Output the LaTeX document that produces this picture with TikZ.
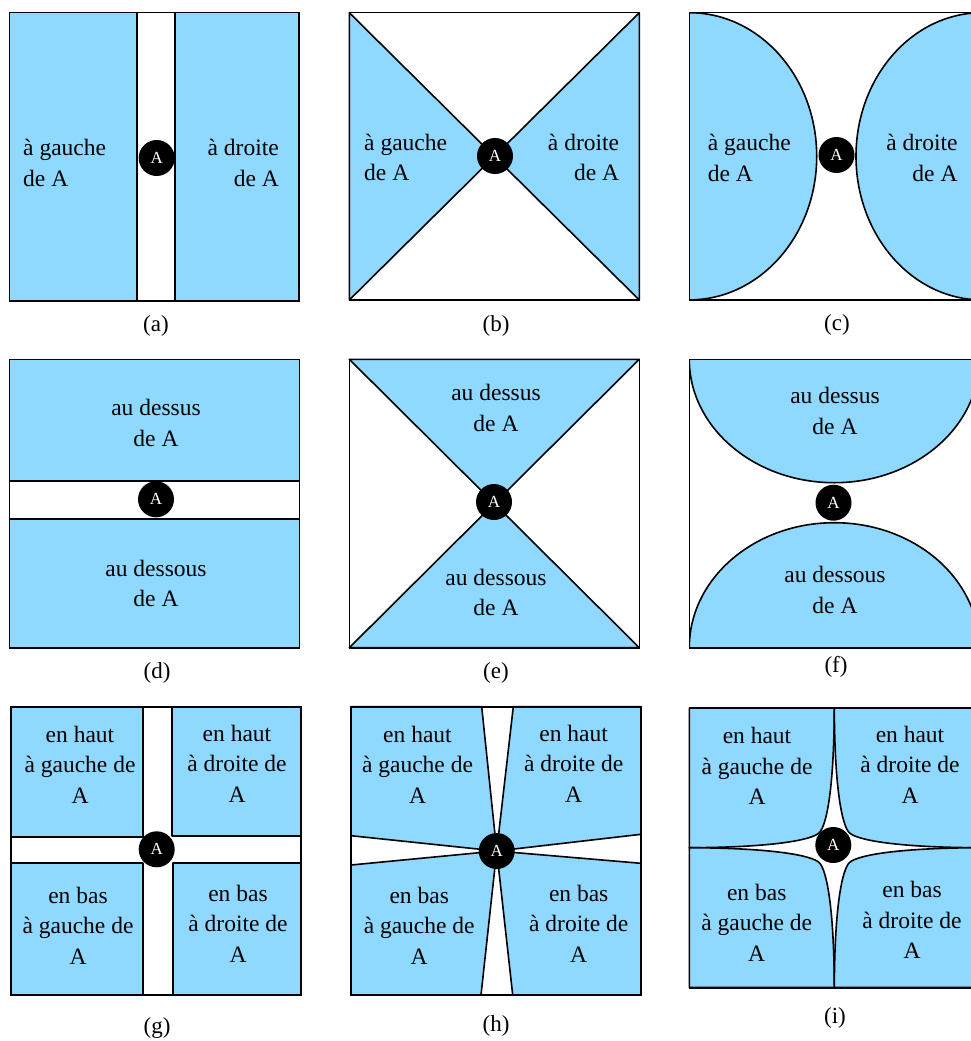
\documentclass[tikz,border=0pt]{standalone}
\usepackage{fontspec}
\setmainfont{Liberation Serif}
\definecolor{regblue}{RGB}{143,216,255}
\begin{document}
\begin{tikzpicture}[x=1pt,y=-1pt,
  region/.style={fill=regblue,draw=black,line width=1.6pt,line join=round},
  frame/.style={draw=black,line width=1.6pt},
  ptnode/.style={circle,fill=black,text=white,minimum size=36pt,inner sep=0pt,font=\fontsize{17}{19}\selectfont},
  lbl/.style={inner sep=0pt,font=\fontsize{23.5}{30.5}\selectfont},
  captext/.style={inner sep=0pt,font=\fontsize{23}{26}\selectfont}]
\useasboundingbox (0,0) rectangle (971,1041);
\clip (0,0) rectangle (971,1041);

% ---------- (a)
\draw[region] (9.5,12.7) rectangle (137,301);
\draw[region] (175,12.7) rectangle (299,301);
\draw[frame] (9.5,12.7) rectangle (299,301);
\node[ptnode] (Aa) at (156.7,158) {A};
\node[lbl,anchor=base west,align=left] (la1) at (23,186) {à gauche\\de A};
\node[lbl,anchor=base east,align=right] (la2) at (279,186) {à droite\\de A};
\node[captext] (ca) at (156,326) {(a)};

% ---------- (b)
\coordinate (Cb) at (494.3,156.4);
\draw[region] (349.3,12.7) -- (Cb) -- (349.3,300) -- cycle;
\draw[region] (639.3,12.7) -- (Cb) -- (639.3,300) -- cycle;
\draw[frame] (349.3,12.7) rectangle (639.3,300);
\node[ptnode] (Ab) at (495,156) {A};
\node[lbl,anchor=base west,align=left] (lb1) at (364,180.5) {à gauche\\de A};
\node[lbl,anchor=base east,align=right] (lb2) at (619.3,180.5) {à droite\\de A};
\node[captext] (cb) at (496,326) {(b)};

% ---------- (c)
\begin{scope}
  \clip (689.3,12.7) rectangle (982,300);
  \draw[region] (689.3,156.3) ellipse[x radius=127.4,y radius=143.6];
  \draw[region] (982,156.3) ellipse[x radius=126,y radius=143.6];
\end{scope}
\draw[frame] (689.3,12.7) rectangle (982,300);
\node[ptnode] (Ac) at (836.5,155) {A};
\node[lbl,anchor=base west,align=left] (lc1) at (707.7,181) {à gauche\\de A};
\node[lbl,anchor=base east,align=right] (lc2) at (957.7,181) {à droite\\de A};
\node[captext] (cc) at (837,325) {(c)};

% ---------- (d)
\draw[region] (9.3,359.3) rectangle (299.3,480.7);
\draw[region] (9.3,519) rectangle (299.3,647.7);
\draw[frame] (9.3,359.3) rectangle (299.3,647.7);
\node[ptnode] (Ad) at (156,499.3) {A};
\node[lbl,anchor=base,align=center] (ld1) at (156,446) {au dessus\\de A};
\node[lbl,anchor=base,align=center] (ld2) at (156,606.7) {au dessous\\de A};
\node[captext] (cd) at (157,673) {(d)};

% ---------- (e)
\coordinate (Ce) at (494.3,503.5);
\draw[region] (349.3,359.3) -- (639.3,359.3) -- (Ce) -- cycle;
\draw[region] (349.3,647.7) -- (639.3,647.7) -- (Ce) -- cycle;
\draw[frame] (349.3,359.3) rectangle (639.3,647.7);
\node[ptnode] (Ae) at (494,502) {A};
\node[lbl,anchor=base,align=center] (le1) at (496,431) {au dessus\\de A};
\node[lbl,anchor=base,align=center] (le2) at (496,615.5) {au dessous\\de A};
\node[captext] (ce) at (496,673) {(e)};

% ---------- (f)
\begin{scope}
  \clip (689.3,359.3) rectangle (979.3,647.7);
  \draw[region] (834.3,359.3) ellipse[x radius=145,y radius=123.4];
  \draw[region] (834.3,647.7) ellipse[x radius=145,y radius=125];
\end{scope}
\draw[frame] (689.3,359.3) rectangle (979.3,647.7);
\node[ptnode] (Af) at (833.5,502.7) {A};
\node[lbl,anchor=base,align=center] (lf1) at (835,434.3) {au dessus\\de A};
\node[lbl,anchor=base,align=center] (lf2) at (835,613.3) {au dessous\\de A};
\node[captext] (cf) at (836,667) {(f)};

% ---------- (g)
\draw[region] (11,706.7) rectangle (142.7,836.7);
\draw[region] (171.7,706.7) rectangle (300.7,836);
\draw[region] (11,862.7) rectangle (142.7,995);
\draw[region] (172.7,862.7) rectangle (300.7,995);
\draw[frame] (11,706.7) rectangle (300.7,995);
\node[ptnode] (Ag) at (156.7,849.3) {A};
\node[lbl,anchor=base,align=center] (lg1) at (80,803) {en haut\\à gauche de\\A};
\node[lbl,anchor=base,align=center] (lg2) at (237,802) {en haut\\à droite de\\A};
\node[lbl,anchor=base,align=center] (lg3) at (78,964) {en bas\\à gauche de\\A};
\node[lbl,anchor=base,align=center] (lg4) at (238,962) {en bas\\à droite de\\A};
\node[captext] (cg) at (157,1028) {(g)};

% ---------- (h)
\coordinate (Ch) at (496.7,851);
\draw[region] (351,706.7) -- (481.7,706.7) -- (Ch) -- (351,835.7) -- cycle;
\draw[region] (513.3,706.7) -- (641,706.7) -- (641,834.3) -- (Ch) -- cycle;
\draw[region] (351,865) -- (Ch) -- (481,995) -- (351,995) -- cycle;
\draw[region] (Ch) -- (641,863.3) -- (641,995) -- (512.7,995) -- cycle;
\draw[frame] (351,706.7) rectangle (641,995);
\node[ptnode] (Ah) at (Ch) {A};
\node[lbl,anchor=base,align=center] (lh1) at (417.5,803) {en haut\\à gauche de\\A};
\node[lbl,anchor=base,align=center] (lh2) at (573.7,802) {en haut\\à droite de\\A};
\node[lbl,anchor=base,align=center] (lh3) at (419.2,964) {en bas\\à gauche de\\A};
\node[lbl,anchor=base,align=center] (lh4) at (578.7,962) {en bas\\à droite de\\A};
\node[captext] (ch) at (496,1026) {(h)};

% ---------- (i)
\foreach \sx/\sy in {-1/-1,1/-1,-1/1,1/1}{
  \begin{scope}[shift={(834.3,847.7)},xscale=\sx,yscale=\sy]
    \draw[region] (145,139.7) -- (0,139.7)
      .. controls (0.3,57.3) and (8,22) .. (15,15)
      .. controls (22,8) and (59.5,0.3) .. (145,0) -- cycle;
  \end{scope}
}
\draw[frame] (689.3,708.3) rectangle (979.3,987.7);
\node[ptnode] (Ai) at (833.3,845) {A};
\node[lbl,anchor=base,align=center] (li1) at (757,804.5) {en haut\\à gauche de\\A};
\node[lbl,anchor=base,align=center] (li2) at (910,803) {en haut\\à droite de\\A};
\node[lbl,anchor=base,align=center] (li3) at (756.7,961) {en bas\\à gauche de\\A};
\node[lbl,anchor=base,align=center] (li4) at (912,958.5) {en bas\\à droite de\\A};
\node[captext] (ci) at (835,1018) {(i)};
\end{tikzpicture}
\end{document}
